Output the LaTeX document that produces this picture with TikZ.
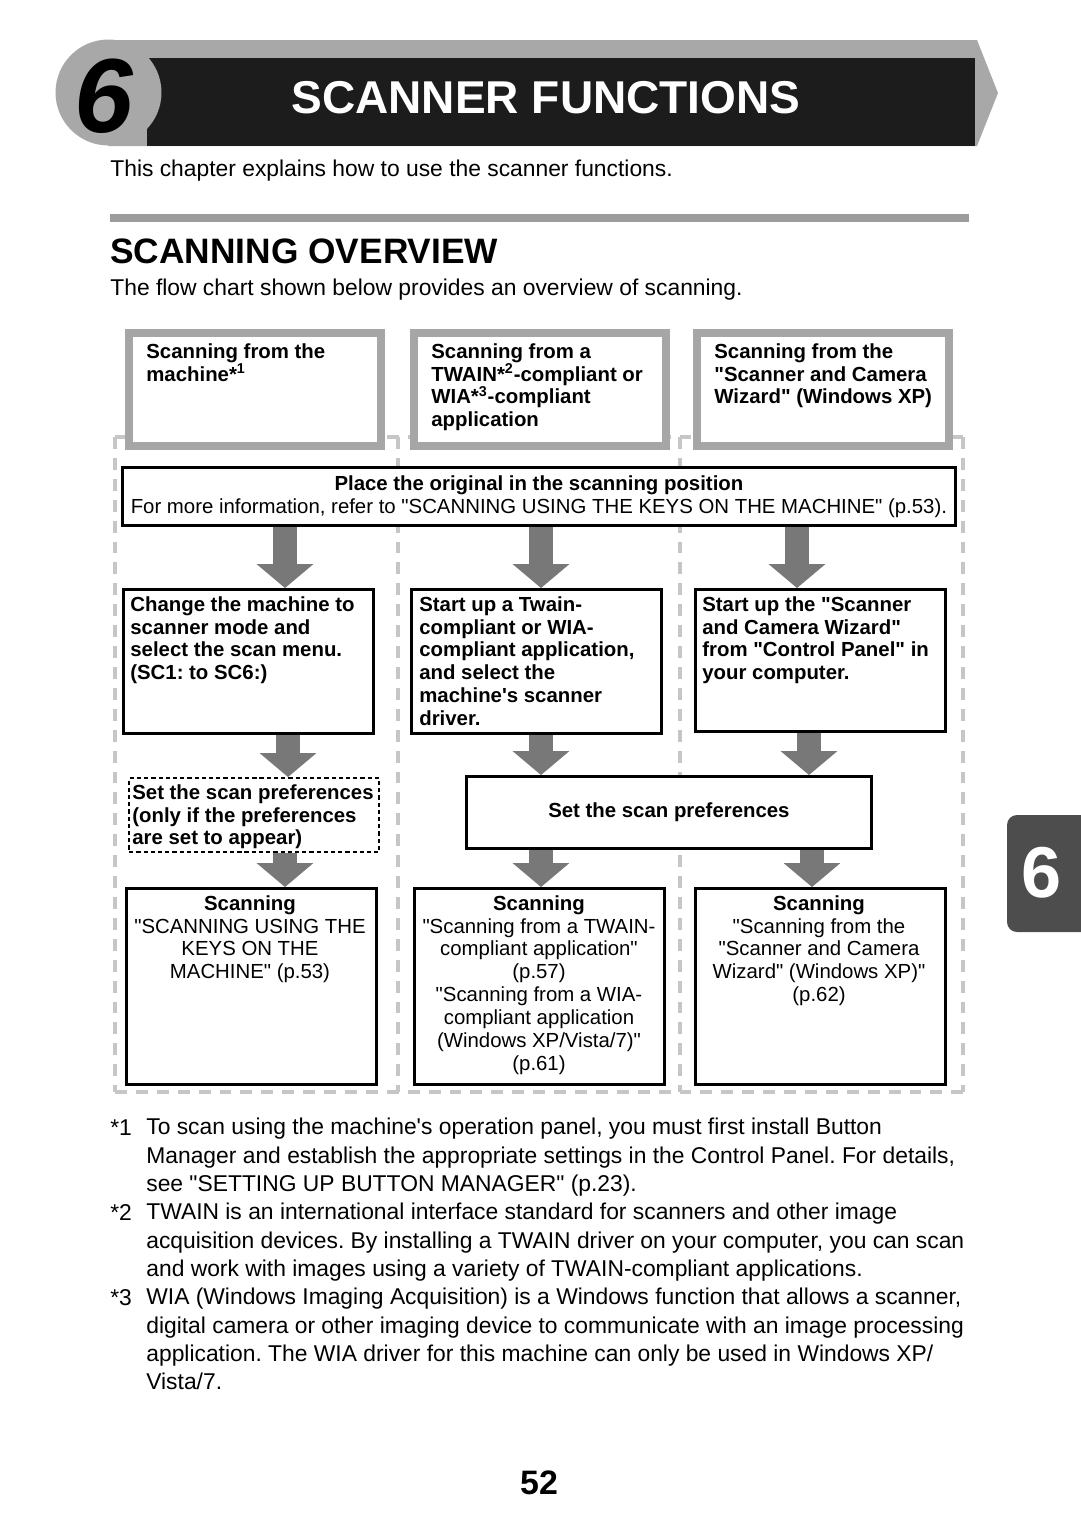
\documentclass[tikz,border=0pt]{standalone}
\usepackage{fontspec}
\setmainfont{Liberation Sans}[Ligatures=TeXOff]
\usetikzlibrary{arrows.meta}
\definecolor{bandgray}{HTML}{A8A8A8}
\definecolor{titleblack}{HTML}{1C1C1C}
\definecolor{rulegray}{HTML}{9C9C9C}
\definecolor{arrowgray}{HTML}{787878}
\definecolor{framegray}{HTML}{C6C6C6}
\definecolor{headgray}{HTML}{A6A6A6}
\definecolor{tabgray}{HTML}{4D4D4D}
\newcommand{\boxfont}{\fontsize{11.6}{13.05}\selectfont}
\newcommand{\bodyfont}{\fontsize{13}{16.1}\selectfont}
\tikzset{
  headbox/.style={draw=headgray,line width=4.4pt,fill=white,anchor=north west,inner sep=0pt,
    minimum width=5.04cm,minimum height=2.26cm},
  flowbox/.style={draw=black,line width=1.7pt,fill=white,anchor=north west,inner sep=0pt},
  optbox/.style={flowbox,line width=1.4pt,dash pattern=on 2.4pt off 1.7pt},
  boxtext/.style={anchor=north west,align=left,inner sep=0pt,font=\boxfont\bfseries},
  resulttext/.style={anchor=north,align=center,inner sep=0pt,font=\boxfont},
  fatarrow/.style={draw=arrowgray,line width=13.6pt,
    -{Triangle[width=32.3pt,length=13.6pt,line width=0pt]}},
  colframe/.style={draw=framegray,line width=2.3pt,dash pattern=on 6.8pt off 5.1pt}
}
\begin{document}
\frenchspacing
\begin{tikzpicture}[x=0.02cm,y=-0.02cm]
  \useasboundingbox (0,0) rectangle (1080,1529);
  % chapter header
  \fill[bandgray] (108,40) -- (977,40) -- (998,93) -- (977,146) -- (108,146) -- cycle;
  \fill[titleblack] (147,58) rectangle (975,146);
  \fill[bandgray] (108.5,92.5) circle (1.06cm);
  \node (chapno) at (104,96) {\fontsize{60}{60}\selectfont\bfseries\itshape 6};
  \node[text=white] (title) at (546,98) {\fontsize{26.2}{26}\selectfont\bfseries SCANNER FUNCTIONS};
  \node[anchor=base west,inner sep=0pt] (intro) at (110,176)
    {\bodyfont This chapter explains how to use the scanner functions.};
  \fill[rulegray] (110,214) rectangle (969,222);
  \node[anchor=base west,inner sep=0pt] (heading) at (110,263)
    {\fontsize{20.1}{24}\selectfont\bfseries SCANNING OVERVIEW};
  \node[anchor=base west,inner sep=0pt] (lead) at (110,295)
    {\bodyfont The flow chart shown below provides an overview of scanning.};

  % column frames
  \draw[colframe] (115,437) -- (963,437);
  \foreach \x in {115,398,680,963}
    \draw[colframe] (\x,437) -- (\x,1092);
  \draw[colframe] (115,1092) -- (963,1092);

  % starting points
  \node[headbox] (frommachine) at (125,329) {};
  \node[headbox] (fromapp) at (410,329) {};
  \node[headbox] (fromwizard) at (693,329) {};
  \node[boxtext] (frommachine-t) at (146,343) {Scanning from the\\machine*\textsuperscript{1}};
  \node[boxtext] (fromapp-t) at (431,343)
    {Scanning from a\\TWAIN*\textsuperscript{2}-compliant or\\WIA*\textsuperscript{3}-compliant\\application};
  \node[boxtext] (fromwizard-t) at (714,343)
    {Scanning from the\\"Scanner and Camera\\Wizard" (Windows XP)};

  \node[flowbox,minimum width=16.66cm,minimum height=1.16cm,align=center,font=\boxfont] (place) at (121,466)
    {\textbf{Place the original in the scanning position}\\For more information, refer to "SCANNING USING THE KEYS ON THE MACHINE" (p.53).};

  % second row
  \node[flowbox,minimum width=5cm,minimum height=2.88cm] (modesel) at (122,588) {};
  \node[flowbox,minimum width=5cm,minimum height=2.88cm] (appstart) at (410,588) {};
  \node[flowbox,minimum width=5cm,minimum height=2.84cm] (wizstart) at (694,588) {};
  \node[boxtext] (modesel-t) at (130,596)
    {Change the machine to\\scanner mode and\\select the scan menu.\\(SC1: to SC6:)};
  \node[boxtext] (appstart-t) at (419,596)
    {Start up a Twain-\\compliant or WIA-\\compliant application,\\and select the\\machine's scanner\\driver.};
  \node[boxtext] (wizstart-t) at (702,596)
    {Start up the "Scanner\\and Camera Wizard"\\from "Control Panel" in\\your computer.};

  % preferences
  \node[optbox,minimum width=5cm,minimum height=1.48cm] (prefopt) at (128,777) {};
  \node[boxtext] (prefopt-t) at (132,784)
    {Set the scan preferences\\(only if the preferences\\are set to appear)};
  \node[flowbox,minimum width=8.1cm,minimum height=1.44cm,font=\boxfont\bfseries] (prefset) at (465,775)
    {Set the scan preferences};

  % scanning
  \node[flowbox,minimum width=5cm,minimum height=3.92cm] (scankeys) at (125,887) {};
  \node[flowbox,minimum width=5cm,minimum height=3.92cm] (scanapp) at (413,887) {};
  \node[flowbox,minimum width=5cm,minimum height=3.92cm] (scanwizard) at (694,887) {};
  \node[resulttext] (scankeys-t) at (250,895)
    {\textbf{Scanning}\\"SCANNING USING THE\\KEYS ON THE\\MACHINE" (p.53)};
  \node[resulttext] (scanapp-t) at (539,895)
    {\textbf{Scanning}\\"Scanning from a TWAIN-\\compliant application"\\(p.57)\\"Scanning from a WIA-\\compliant application\\(Windows XP/Vista/7)"\\(p.61)};
  \node[resulttext] (scanwizard-t) at (819,895)
    {\textbf{Scanning}\\"Scanning from the\\"Scanner and Camera\\Wizard" (Windows XP)"\\(p.62)};

  % arrows
  \draw[fatarrow] (285,0 |- place.south) -- (285,0 |- modesel.north);
  \draw[fatarrow] (541,0 |- place.south) -- (541,0 |- appstart.north);
  \draw[fatarrow] (797,0 |- place.south) -- (797,0 |- wizstart.north);
  \draw[fatarrow] (288,0 |- modesel.south) -- (288,0 |- prefopt.north);
  \draw[fatarrow] (541,0 |- appstart.south) -- (541,0 |- prefset.north);
  \draw[fatarrow] (809,0 |- wizstart.south) -- (809,0 |- prefset.north);
  \draw[fatarrow] (285,0 |- prefopt.south) -- (285,0 |- scankeys.north);
  \draw[fatarrow] (541,0 |- prefset.south) -- (541,0 |- scanapp.north);
  \draw[fatarrow] (812,0 |- prefset.south) -- (812,0 |- scanwizard.north);

  % notes
  \node[anchor=base west,inner sep=0pt] (mark1) at (110,1135) {\bodyfont *1};
  \node[anchor=north west,align=left,inner sep=0pt,font=\bodyfont] (note1) at (146,1118)
    {To scan using the machine's operation panel, you must first install Button\\Manager and establish the appropriate settings in the Control Panel. For details,\\see "SETTING UP BUTTON MANAGER" (p.23).};
  \node[anchor=base west,inner sep=0pt] (mark2) at (110,1220) {\bodyfont *2};
  \node[anchor=north west,align=left,inner sep=0pt,font=\bodyfont] (note2) at (146,1203)
    {TWAIN is an international interface standard for scanners and other image\\acquisition devices. By installing a TWAIN driver on your computer, you can scan\\and work with images using a variety of TWAIN-compliant applications.};
  \node[anchor=base west,inner sep=0pt] (mark3) at (110,1305) {\bodyfont *3};
  \node[anchor=north west,align=left,inner sep=0pt,font=\bodyfont] (note3) at (146,1288)
    {WIA (Windows Imaging Acquisition) is a Windows function that allows a scanner,\\digital camera or other imaging device to communicate with an image processing\\application. The WIA driver for this machine can only be used in Windows XP/\\Vista/7.};

  \node (pageno) at (539,1483) {\fontsize{19.3}{20}\selectfont\bfseries 52};
  % side tab
  \fill[tabgray,rounded corners=0.2cm] (1007,815) rectangle (1100,932);
  \node[text=white] (tabno) at (1042,873) {\fontsize{41}{41}\selectfont\bfseries 6};
\end{tikzpicture}
\end{document}
